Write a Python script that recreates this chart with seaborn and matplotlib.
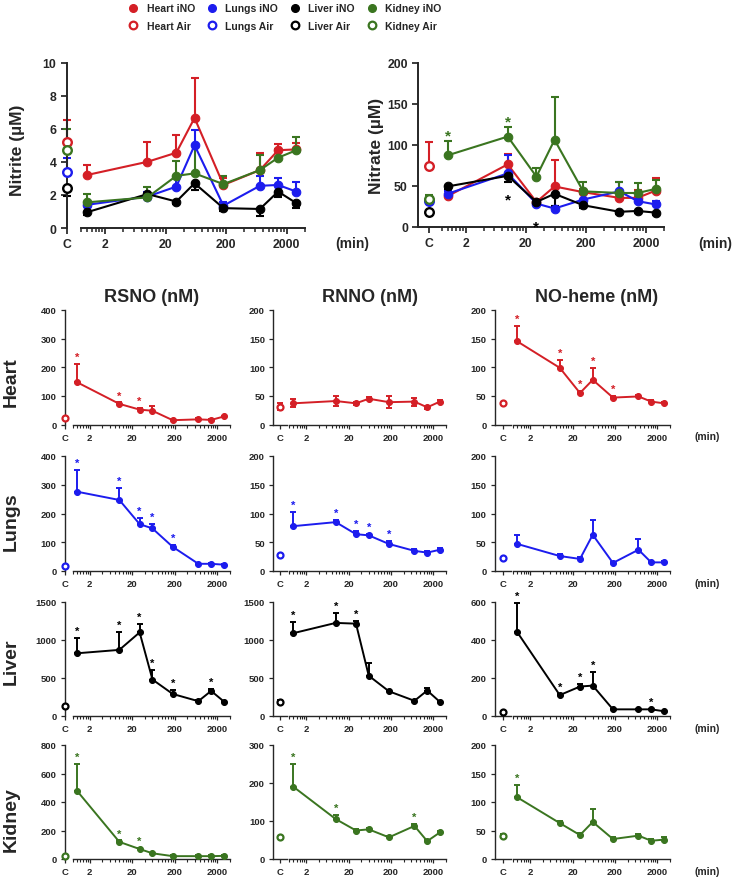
import numpy as np
import matplotlib
matplotlib.use('Agg')
import matplotlib.pyplot as plt
import matplotlib.ticker as mticker
from matplotlib.lines import Line2D
import seaborn as sns

sns.set_theme(style='ticks')
plt.rcParams['font.family'] = ['Liberation Sans', 'DejaVu Sans']
plt.rcParams['font.weight'] = 'bold'
plt.rcParams['axes.labelweight'] = 'bold'

# %%
# Data. Errors: + = bar up, - = bar down
times = [1, 10, 30, 60, 180, 720, 1440, 2880]
organs = ['Heart', 'Lungs', 'Liver', 'Kidney']
colors = {'Heart': '#d41f26', 'Lungs': '#1c1cee', 'Liver': '#000000', 'Kidney': '#3a7520'}

# Nitrite (uM)
nitrite_heart = [3.2, 4.0, 4.55, 6.65, 2.6, 3.5, 4.7, 4.75]
nitrite_heart_err = [0.6, 1.2, 1.05, 2.4, 0.4, 1.05, 0.4, 0.4]
nitrite_lungs = [1.4, 1.9, 2.5, 5.0, 1.35, 2.55, 2.6, 2.2]
nitrite_lungs_err = [0.2, 0.3, 0.5, 0.95, 0.2, 0.6, 0.4, 0.6]
nitrite_liver = [0.95, 2.05, 1.6, 2.7, 1.2, 1.15, 2.2, 1.5]
nitrite_liver_err = [-0.15, -0.3, -0.15, -0.4, -0.2, -0.4, -0.3, -0.3]
nitrite_kidney = [1.55, 1.85, 3.15, 3.3, 2.65, 3.5, 4.25, 4.7]
nitrite_kidney_err = [0.5, 0.65, 0.9, 1.7, 0.5, 0.9, 0.5, 0.8]
nitrite_air = [5.2, 3.4, 2.4, 4.7]
nitrite_air_err = [1.35, 0.85, -0.45, 1.3]

# Nitrate (uM)
nitrate_heart = [37, 76, 30, 49, 42, 35, 35, 44]
nitrate_heart_err = [3, 13, 3, 32, 4, 9, 10, 15]
nitrate_lungs = [40, 65, 28, 22, 33, 43, 31, 27]
nitrate_lungs_err = [4, 23, 3, 3, 7, 12, 5, 4]
nitrate_liver = [49, 62, 30, 40, 26, 18, 19, 17]
nitrate_liver_err = [-3, -7, -3, -15, -3, -3, -3, -3]
nitrate_kidney = [87, 110, 61, 106, 43, 41, 41, 46]
nitrate_kidney_err = [17, 12, 10, 52, 12, 13, 12, 11]
nitrate_air = [74, 31, 18, 34]
nitrate_air_err = [29, 3, -3, 5]
nitrate_stars_kidney = [0, 1]
nitrate_stars_liver = [1, 2]

# RSNO (nM)
rsno_heart = [148, 72, 52, 48, 15, 18, 16, 28]
rsno_heart_err = [65, 5, 5, 16, 3, 3, 3, 3]
rsno_lungs = [276, 247, 163, 148, 84, 25, 25, 22]
rsno_lungs_err = [76, 43, 22, 15, 5, 3, 3, 3]
rsno_liver = [825, 870, 1100, 480, 290, 195, 330, 190]
rsno_liver_err = [200, 240, 110, 120, 50, 10, 20, 10]
rsno_kidney = [480, 120, 70, 40, 20, 20, 20, 22]
rsno_kidney_err = [190, 10, 10, 5, 5, 5, 5, 5]
rsno_air = [22, 18, 130, 20]
rsno_air_err = [0, 0, 0, 0]

# RNNO (nM)
rnno_heart = [37, 41, 37, 45, 39, 40, 30, 40]
rnno_heart_err = [7, 8, 3, 3, 10, 7, 3, 3]
rnno_lungs = [78, 85, 64, 62, 47, 35, 32, 37]
rnno_lungs_err = [25, 3, 6, 3, 6, 3, 3, 3]
rnno_liver = [1090, 1225, 1215, 530, 325, 200, 335, 185]
rnno_liver_err = [150, 125, 30, 165, 15, 15, 30, 15]
rnno_kidney = [190, 105, 75, 78, 57, 87, 47, 70]
rnno_kidney_err = [60, 12, 3, 3, 3, 6, 3, 3]
rnno_air = [31, 27, 180, 57]
rnno_air_err = [6, 0, 30, 0]

# NO-heme (nM)
noheme_heart = [145, 99, 55, 78, 47, 49, 40, 37]
noheme_heart_err = [27, 14, 3, 20, 3, 3, 2, 2]
noheme_lungs = [47, 26, 21, 63, 14, 37, 15, 15]
noheme_lungs_err = [15, 3, 3, 26, 2, 18, 2, 2]
noheme_liver = [440, 110, 155, 160, 35, 35, 35, 25]
noheme_liver_err = [155, 5, 15, 70, 3, 3, 3, 3]
noheme_kidney = [108, 63, 42, 65, 35, 41, 32, 34]
noheme_kidney_err = [22, 3, 3, 23, 3, 3, 3, 5]
noheme_air = [38, 22, 20, 40]
noheme_air_err = [0, 0, 0, 3]

# significant time points (index into times)
stars = {
    ('RSNO', 'Heart'): [0, 1, 2], ('RNNO', 'Heart'): [], ('NO-heme', 'Heart'): [0, 1, 2, 3, 4],
    ('RSNO', 'Lungs'): [0, 1, 2, 3, 4], ('RNNO', 'Lungs'): [0, 1, 2, 3, 4], ('NO-heme', 'Lungs'): [],
    ('RSNO', 'Liver'): [0, 1, 2, 3, 4, 6], ('RNNO', 'Liver'): [0, 1, 2], ('NO-heme', 'Liver'): [0, 1, 2, 3, 6],
    ('RSNO', 'Kidney'): [0, 1, 2], ('RNNO', 'Kidney'): [0, 1, 5], ('NO-heme', 'Kidney'): [0],
}

# %%
W, H = 740, 879
fig = plt.figure(figsize=(W / 100, H / 100), dpi=100)


def frac(x0, y0, x1, y1):
    return [x0 / W, 1 - y1 / H, (x1 - x0) / W, (y1 - y0) / H]


def err_bounds(errs, sym):
    e = np.asarray(errs, float)
    if sym:
        return np.vstack([np.abs(e), np.abs(e)])
    return np.vstack([np.where(e < 0, -e, 0), np.where(e > 0, e, 0)])


def panel(geom, ytop_bot, yticks, series, big=False, sym=False, min_label=None):
    spine_x, c_x, x0, x1 = geom
    y0, y1 = ytop_bot
    ms = 6.2 if big else 4.3
    lw = 1.5 if big else 1.4
    fs = 8.8 if big else 6.8
    slw = 1.4 if big else 1.0
    cap = 3 if big else 2.4
    sfs = 11 if big else 8
    off = c_x - spine_x
    w = max(2 * off, 8)

    ax_c = fig.add_axes(frac(spine_x, y0, spine_x + w, y1))
    ax_m = fig.add_axes(frac(x0, y0, x1, y1))
    ax_m.patch.set_alpha(0)
    ax_c.patch.set_alpha(0)
    ymax = yticks[-1]
    for ax in (ax_c, ax_m):
        ax.set_ylim(0, ymax)
        sns.despine(ax=ax)
        for s in ax.spines.values():
            s.set_linewidth(slw)
        ax.tick_params(width=slw * 0.9, length=4 if big else 3, labelsize=fs, pad=3.5 if big else 3)

    ax_c.set_xlim(-off, w - off)
    ax_c.set_xticks([0])
    ax_c.set_xticklabels(['C'])
    ax_c.set_yticks(yticks)
    ax_c.set_yticklabels([str(v) for v in yticks])
    ax_c.spines['bottom'].set_bounds(-off, off)

    ax_m.set_xscale('log')
    ax_m.set_xlim(0.8, 4000)
    ax_m.spines['left'].set_visible(False)
    ax_m.tick_params(axis='y', left=False, labelleft=False)
    ax_m.xaxis.set_major_locator(mticker.FixedLocator([2, 20, 200, 2000]))
    ax_m.xaxis.set_major_formatter(mticker.FixedFormatter(['2', '20', '200', '2000']))
    ax_m.xaxis.set_minor_locator(mticker.LogLocator(base=10, subs=[1, 1.2, 1.4, 1.6, 1.8, 2, 4, 6, 8], numticks=20))
    ax_m.xaxis.set_minor_formatter(mticker.NullFormatter())
    ax_m.tick_params(axis='x', which='minor', length=3 if big else 2.2, width=slw * 0.8)

    for organ, vals, errs, air, air_err, st_up, st_down in series:
        c = colors[organ]
        ax_m.errorbar(times, vals, yerr=err_bounds(errs, sym), fmt='none', ecolor=c,
                      elinewidth=lw, capsize=cap, capthick=lw, zorder=2, clip_on=False)
        sns.lineplot(x=times, y=vals, ax=ax_m, color=c, marker='o', markersize=ms,
                     markeredgecolor=c, linewidth=lw, errorbar=None, zorder=3, clip_on=False)
        ax_c.errorbar([0], [air], yerr=err_bounds([air_err], sym), fmt='none', ecolor=c,
                      elinewidth=lw, capsize=cap, capthick=lw, zorder=2, clip_on=False)
        ax_c.plot([0], [air], marker='o', ms=ms, mfc='white', mec=c, mew=lw + 0.2,
                  zorder=4, clip_on=False)
        e = np.asarray(errs, float)
        for i in st_up:
            top = vals[i] + max(e[i], 0)
            ax_m.annotate('*', xy=(times[i], top), xytext=(0, 7.5 - 0.57 * sfs),
                          textcoords='offset points', ha='center', va='baseline',
                          color=c, fontsize=sfs, annotation_clip=False)
        for i in st_down:
            ax_m.annotate('*', xy=(times[i], vals[i]), xytext=(0, -14 - 0.57 * sfs),
                          textcoords='offset points', ha='center', va='baseline',
                          color=c, fontsize=sfs, annotation_clip=False)
    if min_label is not None:
        fig.text(min_label[0] / W, 1 - min_label[1] / H, '(min)', ha='center', va='center',
                 fontsize=10 if big else 7.5, fontweight='bold')
    return ax_c, ax_m


# %%
# Top row: nitrite and nitrate
top_series = []
nitrite_vals = [nitrite_heart, nitrite_lungs, nitrite_liver, nitrite_kidney]
nitrite_errs = [nitrite_heart_err, nitrite_lungs_err, nitrite_liver_err, nitrite_kidney_err]
for k, organ in enumerate(organs):
    top_series.append((organ, nitrite_vals[k], nitrite_errs[k], nitrite_air[k], nitrite_air_err[k], [], []))
panel((66.7, 66.7, 81, 305), (63.5, 229), [0, 2, 4, 6, 8, 10], top_series, big=True, min_label=(352, 244))

nitrate_vals = [nitrate_heart, nitrate_lungs, nitrate_liver, nitrate_kidney]
nitrate_errs = [nitrate_heart_err, nitrate_lungs_err, nitrate_liver_err, nitrate_kidney_err]
top_series = []
for k, organ in enumerate(organs):
    up = nitrate_stars_kidney if organ == 'Kidney' else []
    down = nitrate_stars_liver if organ == 'Liver' else []
    top_series.append((organ, nitrate_vals[k], nitrate_errs[k], nitrate_air[k], nitrate_air_err[k], up, down))
panel((418.3, 429.3, 441.7, 664.3), (64, 227.5), [0, 50, 100, 150, 200], top_series, big=True,
      min_label=(715, 244))

fig.text(18 / W, 1 - 150 / H, 'Nitrite (µM)', rotation=90, ha='center', va='center', fontsize=12.5)
fig.text(376 / W, 1 - 146 / H, 'Nitrate (µM)', rotation=90, ha='center', va='center', fontsize=12.5)

# %%
# Grid of RSNO / RNNO / NO-heme per organ
assays = {
    'RSNO': ([rsno_heart, rsno_lungs, rsno_liver, rsno_kidney],
             [rsno_heart_err, rsno_lungs_err, rsno_liver_err, rsno_kidney_err], rsno_air, rsno_air_err),
    'RNNO': ([rnno_heart, rnno_lungs, rnno_liver, rnno_kidney],
             [rnno_heart_err, rnno_lungs_err, rnno_liver_err, rnno_kidney_err], rnno_air, rnno_air_err),
    'NO-heme': ([noheme_heart, noheme_lungs, noheme_liver, noheme_kidney],
                [noheme_heart_err, noheme_lungs_err, noheme_liver_err, noheme_kidney_err], noheme_air, noheme_air_err),
}
col_geom = {'RSNO': (65, 65, 72.7, 230), 'RNNO': (273.3, 280, 289.3, 446), 'NO-heme': (495, 503, 513.3, 670)}
row_geom = {'Heart': (311, 425.5), 'Lungs': (457, 572), 'Liver': (603, 717), 'Kidney': (746, 860)}
yticks = {
    ('RSNO', 'Heart'): [0, 100, 200, 300, 400], ('RNNO', 'Heart'): [0, 50, 100, 150, 200],
    ('NO-heme', 'Heart'): [0, 50, 100, 150, 200],
    ('RSNO', 'Lungs'): [0, 100, 200, 300, 400], ('RNNO', 'Lungs'): [0, 50, 100, 150, 200],
    ('NO-heme', 'Lungs'): [0, 50, 100, 150, 200],
    ('RSNO', 'Liver'): [0, 500, 1000, 1500], ('RNNO', 'Liver'): [0, 500, 1000, 1500],
    ('NO-heme', 'Liver'): [0, 200, 400, 600],
    ('RSNO', 'Kidney'): [0, 200, 400, 600, 800], ('RNNO', 'Kidney'): [0, 100, 200, 300],
    ('NO-heme', 'Kidney'): [0, 50, 100, 150, 200],
}

for assay, (vals, errs, air, air_err) in assays.items():
    for k, organ in enumerate(organs):
        ser = [(organ, vals[k], errs[k], air[k], air_err[k], stars[(assay, organ)], [])]
        y0, y1 = row_geom[organ]
        ml = (707.6, y1 + 12) if assay == 'NO-heme' else None
        panel(col_geom[assay], row_geom[organ], yticks[(assay, organ)], ser,
              sym=(assay == 'RNNO' and organ == 'Heart'), min_label=ml)

for title, xc in [('RSNO (nM)', 152), ('RNNO (nM)', 370), ('NO-heme (nM)', 597)]:
    fig.text(xc / W, 1 - 298 / H, title, ha='center', va='center', fontsize=13)
for organ, yc in [('Heart', 382), ('Lungs', 522), ('Liver', 662), ('Kidney', 820)]:
    fig.text(11 / W, 1 - yc / H, organ, rotation=90, ha='center', va='center', fontsize=14)

# %%
# Legend
handles, labels = [], []
for organ in organs:
    c = colors[organ]
    handles.append(Line2D([], [], ls='none', marker='o', ms=5.5, mfc=c, mec=c))
    labels.append(organ + ' iNO')
    handles.append(Line2D([], [], ls='none', marker='o', ms=5.5, mfc='white', mec=c, mew=1.6))
    labels.append(organ + ' Air')
fig.legend(handles, labels, ncol=4, loc='upper left', bbox_to_anchor=(122 / W, 1 + 2 / H),
           frameon=False, fontsize=7.5, handlelength=1.0, handletextpad=0.8,
           columnspacing=1.1, labelspacing=0.75, borderaxespad=0.2)

fig.savefig('out.png', dpi=100)
